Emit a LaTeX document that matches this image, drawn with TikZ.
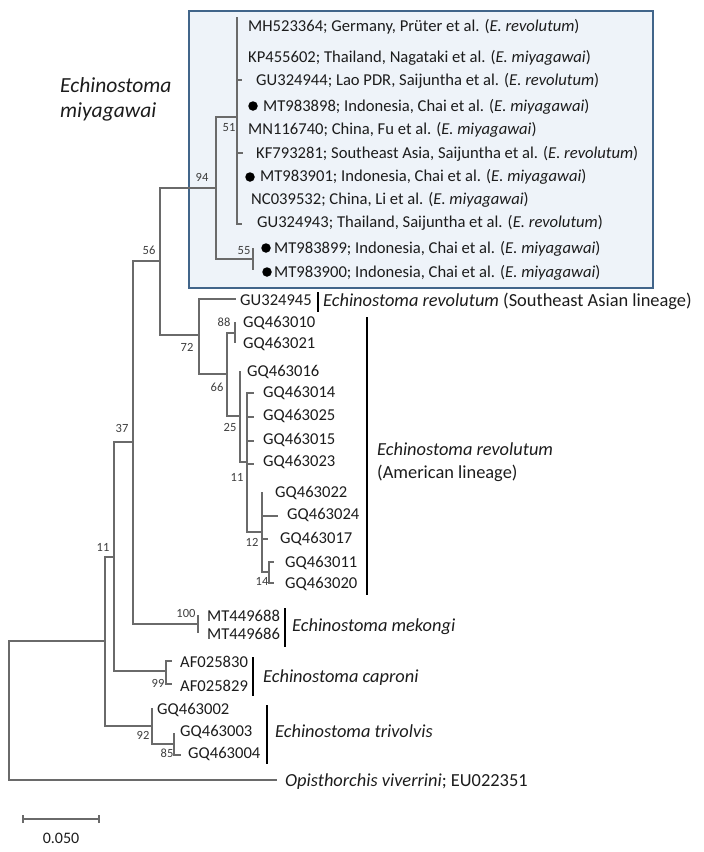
\documentclass[tikz,border=0pt]{standalone}
\usepackage{fontspec}
\setmainfont{Carlito}
\definecolor{treegray}{HTML}{6A6A6A}
\definecolor{boxedge}{HTML}{41658A}
\definecolor{boxfill}{HTML}{EEF3F9}
\definecolor{txt}{HTML}{1C1C1C}
\tikzset{
  branch/.style={draw=treegray, line width=1.3pt},
  tiplab/.style={anchor=base west, inner sep=0pt, text=txt, font=\fontsize{16.6}{18}\selectfont},
  bslab/.style={anchor=center, inner sep=0pt, text=txt!85, font=\fontsize{12.5}{14}\selectfont},
  grplab/.style={anchor=base west, inner sep=0pt, text=txt, font=\fontsize{18.4}{21}\selectfont},
  grpbar/.style={draw=black, line width=2.4pt},
  dotmark/.style={circle, fill=black, inner sep=0pt, minimum size=9.5pt},
  hlbox/.style={draw=boxedge, line width=2pt, fill=boxfill}
}
\newcommand{\tiptext}[4]{\node[tiplab] (#1) at (#2,{#3+5.3}) {#4};}
\begin{document}
\begin{tikzpicture}[x=1pt,y=-1pt]
\useasboundingbox (0,0) rectangle (704,852);
% highlight box
\node[hlbox, minimum width=464pt, minimum height=277pt, anchor=north west, inner sep=0pt] (hbox) at (188,10) {};
% big label
\node[anchor=base west, inner sep=0pt, text=txt, font=\fontsize{21.5}{25}\selectfont\itshape] (emlab1) at (60,92) {Echinostoma};
\node[anchor=base west, inner sep=0pt, text=txt, font=\fontsize{21.5}{25}\selectfont\itshape] (emlab2) at (60,117) {miyagawai};

% internal nodes
\coordinate (root) at (9,710);
\coordinate (nA) at (105,641);
\coordinate (n11) at (114,557);
\coordinate (n37) at (133,442);
\coordinate (n56) at (160,261);
\coordinate (n94) at (216,188);
\coordinate (n51) at (237,117);
\coordinate (n55) at (253,259);
\coordinate (n72) at (199,335);
\coordinate (n66) at (227,374);
\coordinate (n88) at (235,333);
\coordinate (n25) at (240,416);
\coordinate (n11b) at (247,462);
\coordinate (n12) at (262,532);
\coordinate (n14) at (269,572);
\coordinate (n100) at (198,624);
\coordinate (n99) at (166,671);
\coordinate (n92) at (152,726);
\coordinate (n85) at (174,744);
% tip ends
\coordinate (tOpis) at (277,780);
\coordinate (tMH) at (237,17);
\coordinate (tKP) at (237,57);
\coordinate (tGU44) at (242,80);
\coordinate (t898) at (237,106);
\coordinate (tMN) at (237,129);
\coordinate (tKF) at (243,153);
\coordinate (t901) at (237,176);
\coordinate (tNC) at (237,199);
\coordinate (tGU43) at (242,224);
\coordinate (t899) at (253,248);
\coordinate (t900) at (253,270);
\coordinate (tGU45) at (236,299);
\coordinate (t010) at (235,322);
\coordinate (t021) at (235,343);
\coordinate (t016) at (240,371);
\coordinate (t014) at (254,393);
\coordinate (t025) at (254,417);
\coordinate (t015) at (254,441);
\coordinate (t023) at (254,464);
\coordinate (t022) at (262,492);
\coordinate (t024) at (278,516);
\coordinate (t017) at (268,539);
\coordinate (t011) at (274,562);
\coordinate (t020) at (274,583);
\coordinate (t688) at (198,615);
\coordinate (t686) at (198,633);
\coordinate (t830) at (172,661);
\coordinate (t829) at (172,684);
\coordinate (t002) at (152,708);
\coordinate (t003) at (174,733);
\coordinate (t004) at (181,755);

% branches
\draw[branch] (root) |- (nA);
\draw[branch] (root) |- (tOpis);
\draw[branch] (nA) |- (n11);
\draw[branch] (nA) |- (n92);
\draw[branch] (n11) |- (n37);
\draw[branch] (n11) |- (n99);
\draw[branch] (n37) |- (n56);
\draw[branch] (n37) |- (n100);
\draw[branch] (n56) |- (n94);
\draw[branch] (n56) |- (n72);
\draw[branch] (n94) |- (n51);
\draw[branch] (n94) |- (n55);
\foreach \t in {tMH,tKP,tGU44,t898,tMN,tKF,t901,tNC,tGU43} \draw[branch] (n51) |- (\t);
\draw[branch] (n55) |- (t899);
\draw[branch] (n55) |- (t900);
\draw[branch] (n72) |- (tGU45);
\draw[branch] (n72) |- (n66);
\draw[branch] (n66) |- (n88);
\draw[branch] (n66) |- (n25);
\draw[branch] (n88) |- (t010);
\draw[branch] (n88) |- (t021);
\draw[branch] (n25) |- (t016);
\draw[branch] (n25) |- (n11b);
\foreach \t in {t014,t025,t015,t023} \draw[branch] (n11b) |- (\t);
\draw[branch] (n11b) |- (n12);
\draw[branch] (n12) |- (t022);
\draw[branch] (n12) |- (t024);
\draw[branch] (n12) |- (t017);
\draw[branch] (n12) |- (n14);
\draw[branch] (n14) |- (t011);
\draw[branch] (n14) |- (t020);
\draw[branch] (n100) |- (t688);
\draw[branch] (n100) |- (t686);
\draw[branch] (n99) |- (t830);
\draw[branch] (n99) |- (t829);
\draw[branch] (n92) |- (t002);
\draw[branch] (n92) |- (n85);
\draw[branch] (n85) |- (t003);
\draw[branch] (n85) |- (t004);

% bootstrap labels
\node[bslab] (b94) at (202,177) {94};
\node[bslab] (b51) at (229,128) {51};
\node[bslab] (b55) at (244,251) {55};
\node[bslab] (b56) at (149,250) {56};
\node[bslab] (b37) at (122,428) {37};
\node[bslab] (b11) at (103,547) {11};
\node[bslab] (b88) at (224,322) {88};
\node[bslab] (b72) at (187,347) {72};
\node[bslab] (b66) at (217,387) {66};
\node[bslab] (b25) at (230,427) {25};
\node[bslab] (b11b) at (237,477) {11};
\node[bslab] (b12) at (252,542) {12};
\node[bslab] (b14) at (262,581) {14};
\node[bslab] (b100) at (186,613) {100};
\node[bslab] (b99) at (158,683) {99};
\node[bslab] (b92) at (143,735) {92};
\node[bslab] (b85) at (167,753) {85};

% dots
\node[dotmark] (d898) at (253,106) {};
\node[dotmark] (d901) at (250,177) {};
\node[dotmark] (d899) at (266,248) {};
\node[dotmark] (d900) at (267,272) {};

% tip labels (box)
\tiptext{lMH}{248}{26}{MH523364; Germany, Prüter et al. (\textit{E. revolutum})}
\tiptext{lKP}{248}{57}{KP455602; Thailand, Nagataki et al. (\textit{E. miyagawai})}
\tiptext{lGU44}{256}{80}{GU324944; Lao PDR, Saijuntha et al. (\textit{E. revolutum})}
\tiptext{l898}{263}{106}{MT983898; Indonesia, Chai et al. (\textit{E. miyagawai})}
\tiptext{lMN}{248}{129}{MN116740; China, Fu et al. (\textit{E. miyagawai})}
\tiptext{lKF}{256}{153}{KF793281; Southeast Asia, Saijuntha et al. (\textit{E. revolutum})}
\tiptext{l901}{260}{176}{MT983901; Indonesia, Chai et al. (\textit{E. miyagawai})}
\tiptext{lNC}{251}{199}{NC039532; China, Li et al. (\textit{E. miyagawai})}
\tiptext{lGU43}{257}{222}{GU324943; Thailand, Saijuntha et al. (\textit{E. revolutum})}
\tiptext{l899}{274}{248}{MT983899; Indonesia, Chai et al. (\textit{E. miyagawai})}
\tiptext{l900}{274}{272}{MT983900; Indonesia, Chai et al. (\textit{E. miyagawai})}
% revolutum
\tiptext{lGU45}{240}{300}{GU324945}
\tiptext{l010}{243}{322}{GQ463010}
\tiptext{l021}{243}{343}{GQ463021}
\tiptext{l016}{247}{371}{GQ463016}
\tiptext{l014}{263}{392}{GQ463014}
\tiptext{l025}{263}{415}{GQ463025}
\tiptext{l015}{263}{439}{GQ463015}
\tiptext{l023}{263}{461}{GQ463023}
\tiptext{l022}{275}{492}{GQ463022}
\tiptext{l024}{287}{514}{GQ463024}
\tiptext{l017}{280}{538}{GQ463017}
\tiptext{l011}{285}{562}{GQ463011}
\tiptext{l020}{285}{583}{GQ463020}
% others
\tiptext{l688}{207}{616}{MT449688}
\tiptext{l686}{207}{634}{MT449686}
\tiptext{l830}{180}{662}{AF025830}
\tiptext{l829}{180}{686}{AF025829}
\tiptext{l002}{157}{709}{GQ463002}
\tiptext{l003}{180}{731}{GQ463003}
\tiptext{l004}{188}{753}{GQ463004}
\node[grplab] (lOpis) at (285,786) {\textit{Opisthorchis viverrini}; EU022351};

% group bars and labels
\draw[grpbar] (318,292) coordinate (bSEa) -- (318,312) coordinate (bSEb);
\node[grplab] (gSE) at (323,306.5) {\textit{Echinostoma revolutum} (Southeast Asian lineage)};
\draw[grpbar] (367,317) coordinate (bAMa) -- (367,595) coordinate (bAMb);
\node[grplab] (gAM1) at (377,455) {\textit{Echinostoma revolutum}};
\node[grplab] (gAM2) at (377,478) {(American lineage)};
\draw[grpbar] (285,608) coordinate (bMEa) -- (285,647) coordinate (bMEb);
\node[grplab] (gME) at (292,631) {\textit{Echinostoma mekongi}};
\draw[grpbar] (253,657) coordinate (bCAa) -- (253,696) coordinate (bCAb);
\node[grplab] (gCA) at (263,682) {\textit{Echinostoma caproni}};
\draw[grpbar] (267,705) coordinate (bTRa) -- (267,764) coordinate (bTRb);
\node[grplab] (gTR) at (275,737) {\textit{Echinostoma trivolvis}};

% scale bar
\coordinate (sbL) at (23,819);
\coordinate (sbR) at (99,819);
\draw[branch] (sbL) -- (sbR);
\draw[branch] ([yshift=-4pt]sbL) -- ([yshift=4pt]sbL);
\draw[branch] ([yshift=-4pt]sbR) -- ([yshift=4pt]sbR);
\node[anchor=center, inner sep=0pt, text=txt, font=\fontsize{16}{18}\selectfont] (sblab) at (61,838) {0.050};
\end{tikzpicture}
\end{document}
